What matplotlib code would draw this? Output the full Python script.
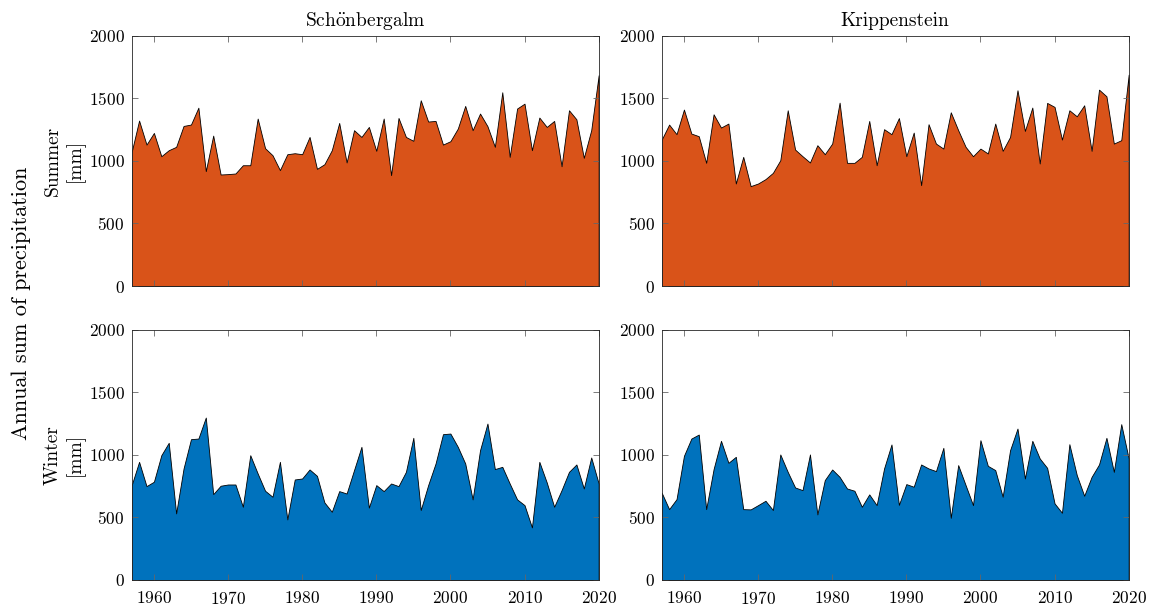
import numpy as np
import matplotlib
matplotlib.use('Agg')
import matplotlib.pyplot as plt

plt.rcParams['font.family'] = 'serif'
plt.rcParams['font.serif'] = ['cmr10']
plt.rcParams['mathtext.fontset'] = 'cm'
plt.rcParams['axes.formatter.use_mathtext'] = True
plt.rcParams['axes.unicode_minus'] = False

# yearly precipitation sums (mm), 1957-2020
years = np.arange(1957, 2021)

schoen_summer = [1072, 1322, 1130, 1223, 1037, 1085, 1112, 1279, 1290, 1425,
                 918, 1202, 891, 894, 899, 965, 965, 1338, 1101, 1045,
                 926, 1053, 1061, 1053, 1191, 936, 973, 1085, 1303, 987,
                 1245, 1191, 1271, 1080, 1338, 886, 1343, 1191, 1160, 1484,
                 1314, 1319, 1130, 1157, 1258, 1439, 1245, 1378, 1277, 1112,
                 1548, 1032, 1418, 1457, 1085, 1346, 1271, 1319, 957, 1404,
                 1332, 1024, 1245, 1684]

kripp_summer = [1170, 1290, 1213, 1410, 1218, 1197, 984, 1372, 1266, 1298,
                819, 1032, 798, 819, 854, 904, 1005, 1404, 1090, 1037,
                987, 1125, 1053, 1138, 1465, 984, 984, 1032, 1319, 965,
                1253, 1213, 1342, 1037, 1226, 806, 1293, 1138, 1098, 1388,
                1245, 1112, 1037, 1098, 1059, 1298, 1080, 1191, 1564, 1239,
                1426, 979, 1463, 1431, 1170, 1404, 1356, 1444, 1080, 1569,
                1516, 1138, 1165, 1689]

schoen_winter = [758, 944, 750, 785, 997, 1096, 532, 891, 1125, 1130,
                 1298, 686, 753, 763, 763, 585, 997, 851, 713, 665,
                 944, 484, 803, 811, 883, 832, 620, 545, 710, 691,
                 878, 1064, 578, 758, 710, 771, 750, 864, 1136, 559,
                 758, 931, 1165, 1170, 1064, 931, 644, 1037, 1250, 886,
                 904, 771, 644, 598, 420, 944, 779, 585, 718, 864,
                 923, 731, 979, 771]

kripp_winter = [697, 566, 646, 992, 1130, 1162, 566, 886, 1112, 936,
                984, 566, 564, 598, 633, 559, 1003, 864, 739, 718,
                1003, 524, 798, 883, 824, 731, 713, 585, 684, 598,
                891, 1083, 600, 766, 745, 923, 891, 870, 1056, 497,
                918, 758, 598, 1117, 912, 878, 665, 1037, 1210, 811,
                1112, 971, 896, 612, 537, 1085, 838, 673, 824, 923,
                1136, 864, 1245, 971]

stations = [r'$\mathrm{Sch\ddot{o}nbergalm}$', 'Krippenstein']
seasons = ['Summer\n[mm]', 'Winter\n[mm]']
orange = '#D95319'
blue = '#0072BD'

fig = plt.figure(figsize=(11.53, 6.07), dpi=100)

lefts = [0.1142, 0.5739]
bottoms = [0.5288, 0.0445]
w, h = 0.405, 0.4124

data = [[schoen_summer, kripp_summer], [schoen_winter, kripp_winter]]
colors = [orange, blue]

for r in range(2):
    for c in range(2):
        ax = fig.add_axes([lefts[c], bottoms[r], w, h])
        ax.fill_between(years, 0, data[r][c], facecolor=colors[r],
                        edgecolor='black', linewidth=0.6)
        ax.set_xlim(1957, 2020)
        ax.set_ylim(0, 2000)
        ax.set_yticks([0, 500, 1000, 1500, 2000])
        ax.set_xticks([1960, 1970, 1980, 1990, 2000, 2010, 2020])
        ax.tick_params(direction='in', top=True, right=True, labelsize=12.5,
                       length=4, width=0.6, color='#666666', pad=5)
        ax.tick_params(axis='x', pad=7)
        for s in ax.spines.values():
            s.set_linewidth(0.6)
            s.set_color('#262626')
        if r == 0:
            ax.set_xticklabels([])
            ax.set_title(stations[c], fontsize=14, pad=7)
        if c == 0:
            ax.set_ylabel(seasons[r], fontsize=14, labelpad=3)

fig.text(0.010, 0.5, 'Annual sum of precipitation', rotation=90,
         fontsize=16, ha='left', va='center')

fig.savefig('out.png', dpi=100)
